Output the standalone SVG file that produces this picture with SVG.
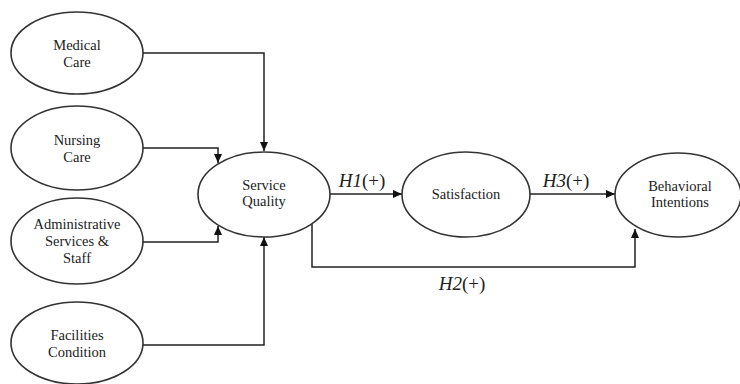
<svg xmlns="http://www.w3.org/2000/svg" width="740" height="384" viewBox="0 0 740 384" font-family="'Liberation Serif', 'Times New Roman', serif">
<defs>
<marker id="ah" markerWidth="9" markerHeight="8" refX="9" refY="4" orient="auto" markerUnits="userSpaceOnUse">
<path d="M0,0 L9,4 L0,8 Z" fill="#111"/>
</marker>
<style>
.node ellipse{fill:#fff;stroke:#333;stroke-width:1.6}
.nt{font-family:'Liberation Serif','Times New Roman',serif;font-size:14.5px;fill:#222;text-anchor:middle}
.conn path{fill:none;stroke:#222;stroke-width:1.5;marker-end:url(#ah)}
.lbl{font-family:'Liberation Serif','Times New Roman',serif;font-size:19px;fill:#222;text-anchor:middle}
</style>
</defs>
<rect width="740" height="384" fill="#fff"/>
<g class="conn">
<path d="M143,53 H264 V151"/>
<path d="M143,148 H218 V163"/>
<path d="M143,242 H218 V226"/>
<path d="M143,345 H264 V237"/>
<path d="M330,194 H402"/>
<path d="M530,194 H615"/>
<path d="M312,223 V267 H635 V229"/>
</g>
<g class="lbls">
<text class="lbl" x="362" y="187"><tspan font-style="italic">H1</tspan>(+)</text>
<text class="lbl" x="566" y="187"><tspan font-style="italic">H3</tspan>(+)</text>
<text class="lbl" x="462" y="290"><tspan font-style="italic">H2</tspan>(+)</text>
</g>
<g id="medical" class="node"><ellipse cx="77" cy="53" rx="66" ry="41"/><text class="nt" x="77" y="50">Medical</text><text class="nt" x="77" y="67">Care</text></g>
<g id="nursing" class="node"><ellipse cx="77" cy="148" rx="66" ry="42"/><text class="nt" x="77" y="145">Nursing</text><text class="nt" x="77" y="162">Care</text></g>
<g id="admin" class="node"><ellipse cx="77" cy="241" rx="66" ry="43"/><text class="nt" x="77" y="229">Administrative</text><text class="nt" x="77" y="246">Services &amp;</text><text class="nt" x="77" y="263">Staff</text></g>
<g id="facilities" class="node"><ellipse cx="77" cy="343" rx="66" ry="41"/><text class="nt" x="77" y="340">Facilities</text><text class="nt" x="77" y="357">Condition</text></g>
<g id="sq" class="node"><ellipse cx="264" cy="194.5" rx="66" ry="42.5"/><text class="nt" x="264" y="190">Service</text><text class="nt" x="264" y="206">Quality</text></g>
<g id="sat" class="node"><ellipse cx="466" cy="194.5" rx="64" ry="42.5"/><text class="nt" x="466" y="199">Satisfaction</text></g>
<g id="bi" class="node"><ellipse cx="678" cy="195" rx="63" ry="42"/><text class="nt" x="680" y="191">Behavioral</text><text class="nt" x="680" y="207">Intentions</text></g>
</svg>
